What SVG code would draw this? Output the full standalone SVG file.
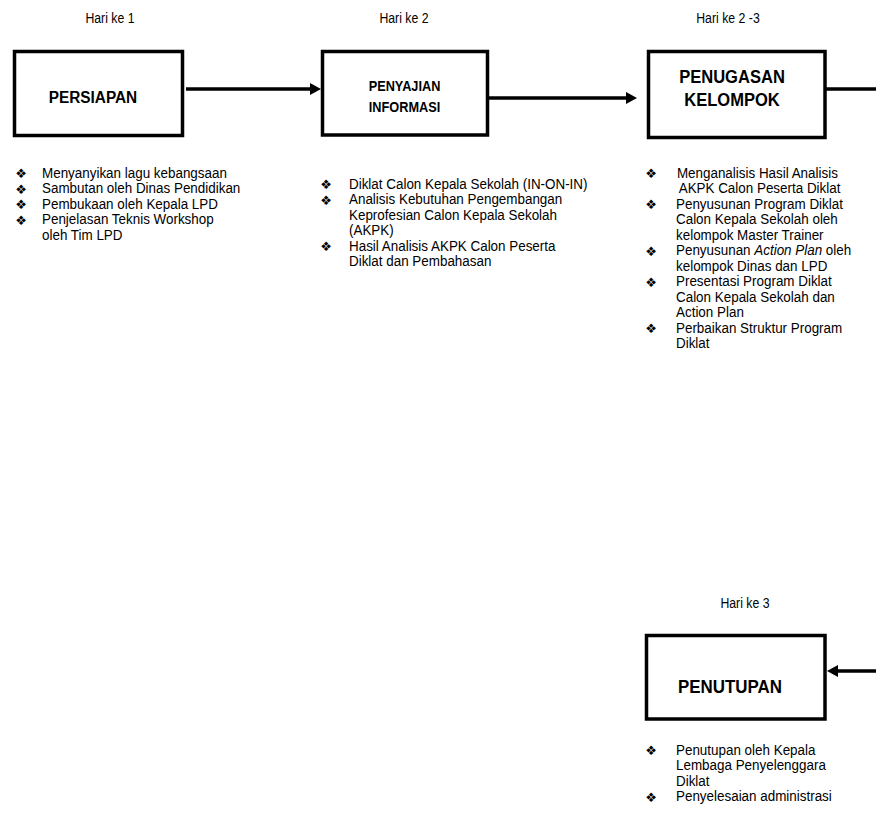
<svg xmlns="http://www.w3.org/2000/svg" width="876" height="822" viewBox="0 0 876 822">
<defs>
<style>
.box{fill:#fff;stroke:#000;stroke-width:3.5}
.conn{stroke:#000;stroke-width:3.5;fill:none}
.day{font-family:"Liberation Sans",Arial,sans-serif;font-size:15px;fill:#000;text-anchor:middle}
.lbl{font-family:"Liberation Sans",Arial,sans-serif;font-weight:bold;fill:#000;text-anchor:middle}
.item{font-family:"Liberation Sans",Arial,sans-serif;font-size:15px;fill:#000}
.bul{font-family:"DejaVu Sans",sans-serif;font-size:13px;fill:#000;text-anchor:middle}
</style>
<marker id="ah" markerUnits="userSpaceOnUse" markerWidth="11" markerHeight="12" refX="0" refY="6" orient="auto" viewBox="0 0 11 12">
<path d="M0,0 L11,6 L0,12 z" fill="#000"/>
</marker>
</defs>
<rect width="876" height="822" fill="#fff"/>

<g id="connectors">
<line class="conn" x1="186" y1="89" x2="310" y2="89" marker-end="url(#ah)"/>
<line class="conn" x1="488" y1="98" x2="626" y2="98" marker-end="url(#ah)"/>
<line class="conn" x1="825" y1="89" x2="876" y2="89"/>
<line class="conn" x1="876" y1="671" x2="838" y2="671" marker-end="url(#ah)"/>
</g>

<g id="persiapan">
<text class="day" transform="translate(110,23) scale(0.82,1)">Hari ke 1</text>
<rect class="box" x="14.5" y="51.5" width="168" height="84"/>
<text class="lbl" font-size="16" transform="translate(93,103) scale(0.96,1)">PERSIAPAN</text>
<g class="bul">
<text x="21" y="178">❖</text><text x="21" y="193.5">❖</text><text x="21" y="209">❖</text><text x="21" y="224.5">❖</text>
</g>
<text class="item" transform="translate(42,178) scale(0.895,1)"><tspan x="0" y="0">Menyanyikan lagu kebangsaan</tspan><tspan x="0" y="15.5">Sambutan oleh Dinas Pendidikan</tspan><tspan x="0" y="31">Pembukaan oleh Kepala LPD</tspan><tspan x="0" y="46.5">Penjelasan Teknis Workshop</tspan><tspan x="0" y="62">oleh Tim LPD</tspan></text>
</g>

<g id="penyajian">
<text class="day" transform="translate(404,23) scale(0.82,1)">Hari ke 2</text>
<rect class="box" x="322.5" y="51.5" width="165" height="83.5"/>
<text class="lbl" font-size="14" transform="translate(404.5,91) scale(0.91,1)"><tspan x="0" y="0">PENYAJIAN</tspan><tspan x="0" y="21">INFORMASI</tspan></text>
<g class="bul">
<text x="326" y="189">❖</text><text x="326" y="204.5">❖</text><text x="326" y="251">❖</text>
</g>
<text class="item" transform="translate(349,189) scale(0.895,1)"><tspan x="0" y="0">Diklat Calon Kepala Sekolah (IN-ON-IN)</tspan><tspan x="0" y="15.5">Analisis Kebutuhan Pengembangan</tspan><tspan x="0" y="31">Keprofesian Calon Kepala Sekolah</tspan><tspan x="0" y="46.5">(AKPK)</tspan><tspan x="0" y="62">Hasil Analisis AKPK Calon Peserta</tspan><tspan x="0" y="77.5">Diklat dan Pembahasan</tspan></text>
</g>

<g id="penugasan">
<text class="day" transform="translate(728,23) scale(0.82,1)">Hari ke 2 -3</text>
<rect class="box" x="648.5" y="51.5" width="176.5" height="86"/>
<text class="lbl" font-size="18" transform="translate(732,83) scale(0.92,1)"><tspan x="0" y="0">PENUGASAN</tspan><tspan x="0" y="23">KELOMPOK</tspan></text>
<g class="bul">
<text x="651" y="178">❖</text><text x="651" y="209">❖</text><text x="651" y="255.5">❖</text><text x="651" y="286.5">❖</text><text x="651" y="333">❖</text>
</g>
<text class="item" transform="translate(676,178) scale(0.895,1)"><tspan x="1" y="0">Menganalisis Hasil Analisis</tspan><tspan x="3" y="15.5">AKPK Calon Peserta Diklat</tspan><tspan x="0" y="31">Penyusunan Program Diklat</tspan><tspan x="0" y="46.5">Calon Kepala Sekolah oleh</tspan><tspan x="0" y="62">kelompok Master Trainer</tspan><tspan x="0" y="77.5">Penyusunan <tspan font-style="italic">Action Plan</tspan> oleh</tspan><tspan x="0" y="93">kelompok Dinas dan LPD</tspan><tspan x="0" y="108.5">Presentasi  Program Diklat</tspan><tspan x="0" y="124">Calon Kepala Sekolah dan</tspan><tspan x="0" y="139.5">Action Plan</tspan><tspan x="0" y="155">Perbaikan Struktur Program</tspan><tspan x="0" y="170.5">Diklat</tspan></text>
</g>

<g id="penutupan">
<text class="day" transform="translate(745,608) scale(0.82,1)">Hari ke 3</text>
<rect class="box" x="646.5" y="635.5" width="178.5" height="83.5"/>
<text class="lbl" font-size="18" transform="translate(730,693) scale(0.94,1)">PENUTUPAN</text>
<g class="bul">
<text x="651" y="755">❖</text><text x="651" y="801.5">❖</text>
</g>
<text class="item" transform="translate(676,755) scale(0.895,1)"><tspan x="0" y="0">Penutupan oleh Kepala</tspan><tspan x="0" y="15.5">Lembaga Penyelenggara</tspan><tspan x="0" y="31">Diklat</tspan><tspan x="0" y="46.5">Penyelesaian administrasi</tspan></text>
</g>
</svg>
